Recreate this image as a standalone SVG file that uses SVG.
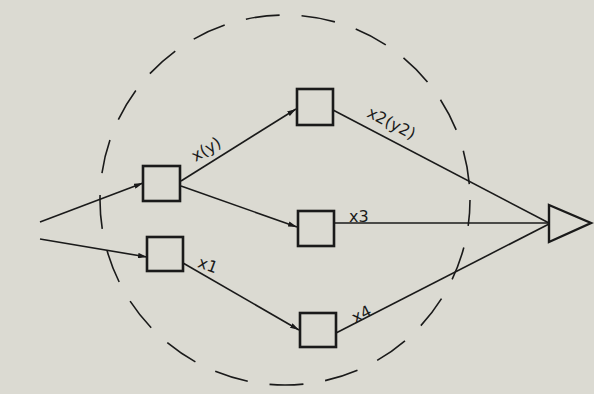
<svg xmlns="http://www.w3.org/2000/svg" width="594" height="394" viewBox="0 0 594 394">
<defs>
<marker id="ah" viewBox="0 0 10 6" refX="10" refY="3" markerWidth="9" markerHeight="5.5" markerUnits="userSpaceOnUse" orient="auto">
<path d="M0,0 L10,3 L0,6 Z" fill="#1a1a1a"/>
</marker>
<style>
.bx{fill:none;stroke:#1a1a1a;stroke-width:2.6}
.ln{fill:none;stroke:#1a1a1a;stroke-width:1.6}
.lbl{font-family:"DejaVu Sans","Liberation Sans",sans-serif;font-size:16px;fill:#1a1a1a}
</style>
</defs>
<rect width="594" height="394" fill="#dbdad2"/>
<circle id="boundary" cx="285" cy="200" r="185" fill="none" stroke="#1a1a1a" stroke-width="1.6" stroke-dasharray="34 22" stroke-dashoffset="8"/>
<g id="connectors">
<line class="ln" x1="40" y1="222" x2="143" y2="183" marker-end="url(#ah)"/>
<line class="ln" x1="40" y1="239" x2="147" y2="257" marker-end="url(#ah)"/>
<line class="ln" x1="181" y1="181" x2="296" y2="109" marker-end="url(#ah)"/>
<line class="ln" x1="181" y1="186" x2="297" y2="227" marker-end="url(#ah)"/>
<line class="ln" x1="183" y1="263" x2="299" y2="330" marker-end="url(#ah)"/>
<line class="ln" x1="333" y1="110" x2="549" y2="223"/>
<line class="ln" x1="334" y1="223" x2="549" y2="223" stroke-width="2"/>
<line class="ln" x1="336" y1="333" x2="549" y2="224"/>
<text class="lbl" transform="translate(209,154) rotate(-31)" text-anchor="middle">x(y)</text>
<text class="lbl" transform="translate(389,128) rotate(27)" text-anchor="middle">x2(y2)</text>
<text class="lbl" x="349" y="222">x3</text>
<text class="lbl" transform="translate(206,270) rotate(20)" text-anchor="middle">x1</text>
<text class="lbl" transform="translate(364,319) rotate(-27)" text-anchor="middle">x4</text>
</g>
<g id="nodeA"><rect class="bx" x="143" y="166" width="37" height="35"/></g>
<g id="nodeB"><rect class="bx" x="147" y="237" width="36" height="34"/></g>
<g id="nodeC"><rect class="bx" x="297" y="89" width="36" height="36"/></g>
<g id="nodeD"><rect class="bx" x="298" y="211" width="36" height="35"/></g>
<g id="nodeE"><rect class="bx" x="300" y="313" width="36" height="34"/></g>
<g id="output"><path d="M549,205 L591,223 L549,242 Z" fill="none" stroke="#1a1a1a" stroke-width="2.4" stroke-linejoin="miter"/></g>
</svg>
